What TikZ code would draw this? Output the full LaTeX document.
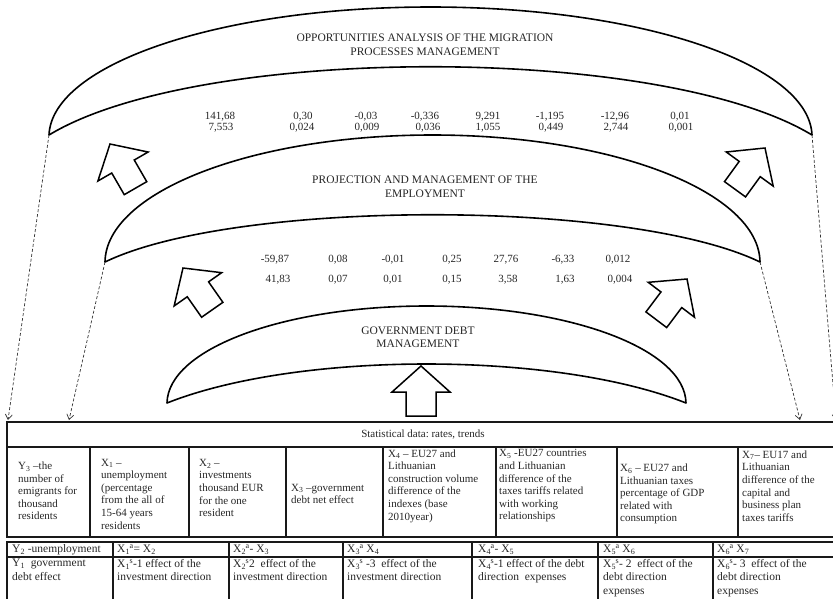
\documentclass[tikz,border=0pt]{standalone}
\usepackage{fontspec}
\setmainfont{Liberation Serif}
\usetikzlibrary{arrows.meta}
\newcommand\Xsp[2]{X\textsubscript{#1}\kern-0.5pt\textsuperscript{#2}}
\begin{document}
\begin{tikzpicture}[x=1pt,y=-1pt,
  crescent/.style={draw=black, line width=1.6pt, fill=white, line join=round},
  bigarrow/.style={draw=black, line width=1.5pt, fill=white, line join=miter},
  lbl/.style={font=\fontsize{11.5}{14}\selectfont, text=black!85, align=center, inner sep=0pt},
  num/.style={font=\fontsize{11}{13}\selectfont, text=black!85, inner sep=0pt},
  cell/.style={font=\fontsize{11}{12.6}\selectfont, text=black!85, align=left, anchor=west, inner sep=0pt},
  cellrow/.style={font=\fontsize{11.5}{13.5}\selectfont, text=black!85, align=left, anchor=west, inner sep=0pt},
  cellnw/.style={font=\fontsize{11.5}{13.5}\selectfont, text=black!85, align=left, anchor=north west, inner sep=0pt},
  tab/.style={draw=black!90, line width=1.5pt},
  link/.style={draw=black!80, line width=0.7pt, dash pattern=on 3pt off 2pt, -{Straight Barb[length=5pt,width=7pt]}},
  hollowarrow/.pic={\draw[bigarrow] (0,0) -- (29,26) -- (13,26) -- (13,51) -- (-13,51) -- (-13,26) -- (-29,26) -- cycle;}
]
\useasboundingbox (0,0) rectangle (833,598);
\clip (0,0) rectangle (833,598);

% crescents
\draw[crescent] (49,135) .. controls (52,64) and (220,7) .. (430.5,7) .. controls (641,7) and (809,64) .. (812,135) .. controls (662,44) and (199,44) .. cycle;
\draw[crescent] (105,262) .. controls (106,192) and (251.6,135) .. (432.5,135) .. controls (613.4,135) and (759,192) .. (760,262) .. controls (630,199) and (235,199) .. cycle;
\draw[crescent] (167,403) .. controls (168,349) and (283,306) .. (426.5,306) .. controls (570,306) and (685,349) .. (686,403) .. controls (555,351) and (298,351) .. cycle;

\coordinate (topL) at (49,135);
\coordinate (topR) at (812,135);
\coordinate (midL) at (105,262);
\coordinate (midR) at (760,262);
\coordinate (endA) at (8,420);
\coordinate (endB) at (69,420);
\coordinate (endC) at (800,420);
\coordinate (endD) at (836,420);

% titles
\node[lbl] (t1) at (425,45) {OPPORTUNITIES ANALYSIS OF THE MIGRATION\\PROCESSES MANAGEMENT};
\node[lbl] (t2) at (425,187) {PROJECTION AND MANAGEMENT OF THE\\EMPLOYMENT};
\node[lbl, font=\fontsize{11.5}{12.7}\selectfont] (t3) at (418,337) {GOVERNMENT DEBT\\MANAGEMENT};

% top numbers
\node[num] (a1) at (220,117) {141,68};  \node[num] (b1) at (221,128) {7,553};
\node[num] (a2) at (303,117) {0,30};    \node[num] (b2) at (302,128) {0,024};
\node[num] (a3) at (366,117) {-0,03};   \node[num] (b3) at (367,128) {0,009};
\node[num] (a4) at (425,117) {-0,336};  \node[num] (b4) at (428,128) {0,036};
\node[num] (a5) at (488,117) {9,291};   \node[num] (b5) at (488,128) {1,055};
\node[num] (a6) at (550,117) {-1,195};  \node[num] (b6) at (551,128) {0,449};
\node[num] (a7) at (615,117) {-12,96};  \node[num] (b7) at (616,128) {2,744};
\node[num] (a8) at (680,117) {0,01};    \node[num] (b8) at (681,128) {0,001};

% middle numbers
\node[num] (c1) at (275,260) {-59,87};  \node[num] (d1) at (278,280) {41,83};
\node[num] (c2) at (338,260) {0,08};    \node[num] (d2) at (338,280) {0,07};
\node[num] (c3) at (393,260) {-0,01};   \node[num] (d3) at (393,280) {0,01};
\node[num] (c4) at (452,260) {0,25};    \node[num] (d4) at (452,280) {0,15};
\node[num] (c5) at (506,260) {27,76};   \node[num] (d5) at (508,280) {3,58};
\node[num] (c6) at (563,260) {-6,33};   \node[num] (d6) at (565,280) {1,63};
\node[num] (c7) at (618,260) {0,012};   \node[num] (d7) at (620,280) {0,004};

% hollow arrows
\pic[rotate=30] at (110,144) {hollowarrow};
\pic[rotate=-36] at (765,148) {hollowarrow};
\pic[rotate=35] at (183,268) {hollowarrow};
\pic[rotate=-37] at (687,279) {hollowarrow};
\draw[bigarrow] (421,366) -- (450,392) -- (436,392) -- (436,416) -- (406,416) -- (406,392) -- (392,392) -- cycle;

% dashed links
\draw[link] (topL) -- (endA);
\draw[link] (midL) -- (endB);
\draw[link] (midR) -- (endC);
\draw[link] (topR) -- (endD);

% table
\draw[tab] (7,422) rectangle (845,447);
\node[font=\fontsize{11}{13}\selectfont, text=black!85, inner sep=0pt] (stat) at (423,435) {Statistical data:\ rates, trends};
\draw[tab] (7,447) -- (7,537) -- (845,537);
\foreach \xx in {90,189,286,383,496,617,738} \draw[tab] (\xx,447) -- (\xx,537);

\node[cell] (y3) at (18,491) {Y\textsubscript{3} –the\\number of\\emigrants for\\thousand\\residents};
\node[cell] (x1) at (101,494) {X\textsubscript{1} –\\unemployment\\(percentage\\from the all of\\15-64 years\\residents};
\node[cell] (x2) at (199,488) {X\textsubscript{2} –\\investments\\thousand EUR\\for the one\\resident};
\node[cell] (x3) at (291,494) {X\textsubscript{3} –government\\debt net effect};
\node[cell] (x4) at (388,486) {X\textsubscript{4} – EU27 and\\Lithuanian\\construction volume\\difference of the\\indexes (base\\2010year)};
\node[cell] (x5) at (499,486) {X\textsubscript{5} -EU27 countries\\and Lithuanian\\difference of the\\taxes tariffs related\\with working\\relationships};
\node[cell] (x6) at (620,494) {X\textsubscript{6} – EU27 and\\Lithuanian taxes\\percentage of GDP\\related with\\consumption};
\node[cell] (x7) at (742,486) {X\textsubscript{7}– EU17 and\\Lithuanian\\difference of the\\capital and\\business plan\\taxes tariffs};

\draw[tab] (7,542) rectangle (845,620);
\draw[tab] (7,557) -- (845,557);
\foreach \xx in {113,229,343,472,598,713} \draw[tab] (\xx,542) -- (\xx,620);

\node[cellrow] (r1) at (12,549.5) {Y\textsubscript{2} -unemployment};
\node[cellrow] (r2) at (117,549.5) {\Xsp{1}{a}= X\textsubscript{2}};
\node[cellrow] (r3) at (233,549.5) {\Xsp{2}{a}- X\textsubscript{3}};
\node[cellrow] (r4) at (347,549.5) {\Xsp{3}{a} X\textsubscript{4}};
\node[cellrow] (r5) at (478,549.5) {\Xsp{4}{a}- X\textsubscript{5}};
\node[cellrow] (r6) at (603,549.5) {\Xsp{5}{a} X\textsubscript{6}};
\node[cellrow] (r7) at (717,549.5) {\Xsp{6}{a} X\textsubscript{7}};

\node[cellnw] (s1) at (12,559) {Y\textsubscript{1}\ \ government\\debt effect};
\node[cellnw] (s2) at (117,559) {\Xsp{1}{s}-1 effect of the\\investment direction};
\node[cellnw] (s3) at (233,559) {\Xsp{2}{s}2\ \ effect of the\\investment direction};
\node[cellnw] (s4) at (347,559) {\Xsp{3}{s} -3\ \ effect of the\\investment direction};
\node[cellnw] (s5) at (478,559) {\Xsp{4}{s}-1 effect of the debt\\direction\ \ expenses};
\node[cellnw] (s6) at (603,559) {\Xsp{5}{s}- 2\ \ effect of the\\debt direction\\expenses};
\node[cellnw] (s7) at (717,559) {\Xsp{6}{s}- 3\ \ effect of the\\debt direction\\expenses};
\end{tikzpicture}
\end{document}
